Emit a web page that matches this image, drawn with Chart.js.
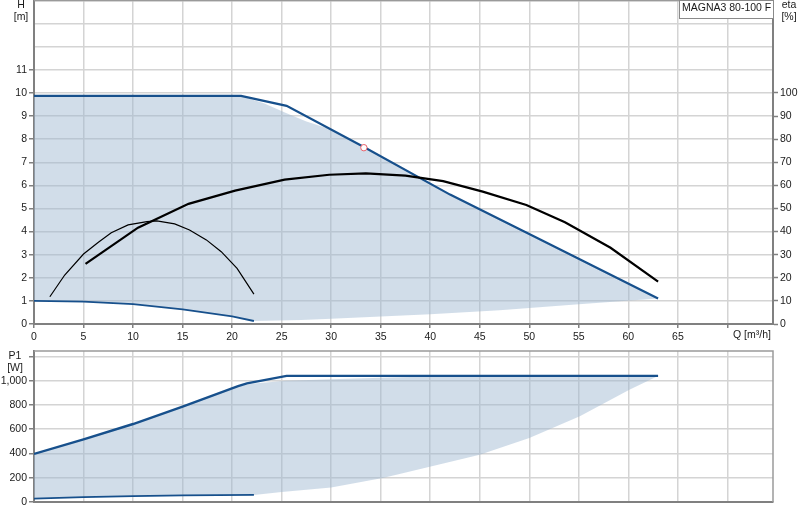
<!DOCTYPE html>
<html>
<head>
<meta charset="utf-8">
<script src="https://cdn.jsdelivr.net/npm/chart.js@4.4.1/dist/chart.umd.min.js"></script>
<style>
  html, body { margin: 0; padding: 0; background: #fff; }
  #wrap { position: relative; width: 800px; height: 520px; overflow: hidden; }
  #topBox { position: absolute; left: 0; top: 0; width: 800px; height: 340px; }
  #botBox { position: absolute; left: 0; top: 340px; width: 800px; height: 180px; }
</style>
</head>
<body>
<div id="wrap">
  <div id="topBox"><canvas id="topChart"></canvas></div>
  <div id="botBox"><canvas id="botChart"></canvas></div>
</div>
<script>
// ---------- DATA ----------
const qTicks = [0, 5, 10, 15, 20, 25, 30, 35, 40, 45, 50, 55, 60, 65, 70];
const hTicks = [0, 1, 2, 3, 4, 5, 6, 7, 8, 9, 10, 11, 12, 13, 14];
const etaTicks = [0, 10, 20, 30, 40, 50, 60, 70, 80, 90, 100, 110, 120, 130, 140];
const p1Ticks = [0, 200, 400, 600, 800, 1000, 1200];

// H curves [m]
const qHMax = [0, 20.9, 25.5, 33.3, 42, 51, 63];
const hMax = [9.87, 9.87, 9.44, 7.66, 5.6, 3.68, 1.1];
const qHMin = [0, 5, 10, 15, 20, 22.2];
const hMin = [1.0, 0.97, 0.86, 0.63, 0.33, 0.13];

// H operating area (shaded)
const qHAreaTop = [0, 20.9, 23.2, 25.5, 27.5, 30, 33.3, 42, 51, 63];
const hAreaTop = [9.87, 9.87, 9.55, 9.12, 8.76, 8.42, 7.66, 5.6, 3.68, 1.1];
const qHAreaBot = [0, 5, 10, 15, 20, 22.2, 27, 30, 40, 47, 55, 63];
const hAreaBot = [1.0, 0.97, 0.86, 0.63, 0.33, 0.13, 0.17, 0.23, 0.42, 0.6, 0.85, 1.1];

// duty point
const qDuty = [33.3];
const hDuty = [7.63];

// efficiency curves [%]
const qEtaMax = [5.2, 10.5, 15.6, 20.3, 25.3, 29.8, 33.5, 37.5, 41.3, 45.3, 49.7, 53.6, 58.2, 63];
const etaMax = [26, 41.7, 52, 57.7, 62.5, 64.6, 65.2, 64.2, 61.8, 57.3, 51.5, 44, 33, 18.3];
const qEtaMin = [1.6, 3.1, 5.0, 6.5, 7.8, 9.5, 11.4, 12.4, 14.2, 15.7, 17.4, 18.9, 20.5, 22.2];
const etaMin = [11.8, 21.2, 30.3, 35.4, 39.5, 42.9, 44.3, 44.6, 43.3, 40.7, 36.4, 31.3, 24.1, 12.9];

// P1 curves [W]
const qP1Max = [0, 5, 10, 15, 20.6, 21.5, 25.5, 63];
const p1Max = [396, 517, 643, 786, 956, 978, 1040, 1040];
const qP1Min = [0, 5, 10, 15, 22.2];
const p1Min = [28, 40, 48, 54, 58];

// P1 operating area (shaded)
const qP1AreaTop = [0, 5, 10, 15, 20.6, 22.2, 25.5, 30, 35, 40, 45, 63];
const p1AreaTop = [396, 517, 643, 786, 956, 978, 1000, 1012, 1025, 1035, 1040, 1040];
const qP1AreaBot = [0, 5, 10, 15, 22.2, 25, 30, 35.2, 36.9, 45, 50, 55.1, 60.1, 63];
const p1AreaBot = [28, 40, 48, 54, 58, 82, 120, 198, 231, 390, 528, 706, 926, 1040];

const modelName = 'MAGNA3 80-100 F';

// ---------- STYLE ----------
const FAMILY = '"Liberation Sans", Arial, sans-serif';
const FONT = { family: FAMILY, size: 10.5 };
const YFONT = { family: FAMILY, size: 10.5, lineHeight: 0.05 };
const TXT = '#1a1a1a';
const GRID = '#d4d4d4';
const AXIS = '#808080';
const BLUE = '#17508c';
const SHADE = 'rgba(158,184,210,0.48)';

const pts = (xs, ys) => xs.map((x, i) => ({ x: x, y: ys[i] }));
const setTicks = arr => s => { s.ticks = arr.map(v => ({ value: v })); };
const noPad = s => { s.paddingTop = 0; s.paddingBottom = 0; s.paddingLeft = 0; s.paddingRight = 0; };
const clear = 'rgba(0,0,0,0)';

const textPlugin = (items, frame) => ({
  id: 'texts',
  afterDraw(chart) {
    const ctx = chart.ctx;
    const a = chart.chartArea;
    ctx.save();
    ctx.strokeStyle = '#9a9a9a';
    ctx.lineWidth = 1.5;
    ctx.beginPath();
    ctx.moveTo(a.left, a.top); ctx.lineTo(a.right, a.top);
    if (frame) ctx.lineTo(a.right, a.bottom);
    ctx.stroke();
    ctx.font = FONT.size + 'px ' + FAMILY;
    ctx.textBaseline = 'middle';
    items.forEach(it => {
      if (it.box) {
        ctx.fillStyle = '#fff';
        ctx.fillRect(it.box[0], it.box[1], it.box[2], it.box[3]);
        ctx.strokeStyle = '#8a8a8a';
        ctx.lineWidth = 1;
        ctx.strokeRect(it.box[0] + 0.5, it.box[1] + 0.5, it.box[2], it.box[3]);
      }
      ctx.fillStyle = it.color || TXT;
      ctx.textAlign = it.align || 'center';
      ctx.fillText(it.t, it.x, it.y);
    });
    ctx.restore();
  }
});

// ---------- TOP CHART ----------
new Chart(document.getElementById('topChart'), {
  type: 'line',
  data: {
    datasets: [
      { data: pts(qDuty, hDuty), yAxisID: 'y', showLine: false, pointRadius: 3.2, pointHoverRadius: 3.2,
        pointBorderColor: '#e8606a', pointBackgroundColor: '#fff', pointBorderWidth: 1 },
      { data: pts(qEtaMax, etaMax), yAxisID: 'y2', borderColor: '#000', borderWidth: 2.2, pointRadius: 0, fill: false },
      { data: pts(qEtaMin, etaMin), yAxisID: 'y2', borderColor: '#000', borderWidth: 1.2, pointRadius: 0, fill: false },
      { data: pts(qHMax, hMax), yAxisID: 'y', borderColor: BLUE, borderWidth: 2.2, pointRadius: 0, fill: false },
      { data: pts(qHMin, hMin), yAxisID: 'y', borderColor: BLUE, borderWidth: 1.8, pointRadius: 0, fill: false },
      { data: pts(qHAreaTop, hAreaTop), yAxisID: 'y', borderWidth: 0, borderColor: clear, pointRadius: 0,
        backgroundColor: SHADE, fill: '+1' },
      { data: pts(qHAreaBot, hAreaBot), yAxisID: 'y', borderWidth: 0, borderColor: clear, pointRadius: 0, fill: false }
    ]
  },
  options: {
    responsive: true, maintainAspectRatio: false, animation: false,
    layout: { autoPadding: false, padding: { top: 0.5, left: 0, right: 0, bottom: 0 } },
    plugins: { legend: { display: false }, tooltip: { enabled: false } },
    elements: { line: { tension: 0 } },
    scales: {
      x: {
        type: 'linear', min: 0, max: 74.6, position: 'bottom',
        afterBuildTicks: setTicks(qTicks),
        afterFit: s => { s.height = 16; noPad(s); },
        ticks: { font: FONT, color: TXT, padding: 3, maxRotation: 0, autoSkip: false,
                 callback: v => (v <= 65 ? String(v) : '') },
        grid: { color: GRID, lineWidth: 1.5, tickLength: 4, tickColor: AXIS, tickWidth: 1.5 },
        border: { color: AXIS, width: 2 }
      },
      y: {
        type: 'linear', min: 0, max: 14, position: 'left',
        afterBuildTicks: setTicks(hTicks),
        afterFit: s => { s.width = 34; noPad(s); },
        ticks: { font: YFONT, color: TXT, padding: 2, autoSkip: false,
                 callback: v => (v <= 11 ? String(v) : '') },
        grid: { color: GRID, lineWidth: 1.5, tickLength: 5, tickWidth: 1.5,
                tickColor: c => (c.tick && c.tick.value <= 11 ? AXIS : clear) },
        border: { color: AXIS, width: 2 }
      },
      y2: {
        type: 'linear', min: 0, max: 140, position: 'right',
        afterBuildTicks: setTicks(etaTicks),
        afterFit: s => { s.width = 27; noPad(s); },
        ticks: { font: YFONT, color: TXT, padding: 2, autoSkip: false,
                 callback: v => (v <= 100 ? String(v) : '') },
        grid: { drawOnChartArea: false, tickLength: 5, tickWidth: 1.5,
                tickColor: c => (c.tick && c.tick.value <= 100 ? AXIS : clear) },
        border: { color: AXIS, width: 2 }
      }
    }
  },
  plugins: [textPlugin([
    { t: 'H', x: 21, y: 5 },
    { t: '[m]', x: 21, y: 17 },
    { t: 'eta', x: 789, y: 5 },
    { t: '[%]', x: 789, y: 17 },
    { t: 'Q [m³/h]', x: 733, y: 335, align: 'left' },
    { t: modelName, x: 682, y: 8, align: 'left', box: [679, 0, 94, 18] }
  ], false)]
});

// ---------- BOTTOM CHART ----------
new Chart(document.getElementById('botChart'), {
  type: 'line',
  data: {
    datasets: [
      { data: pts(qP1Max, p1Max), borderColor: BLUE, borderWidth: 2.4, pointRadius: 0, fill: false },
      { data: pts(qP1Min, p1Min), borderColor: BLUE, borderWidth: 1.8, pointRadius: 0, fill: false },
      { data: pts(qP1AreaTop, p1AreaTop), borderWidth: 0, borderColor: clear, pointRadius: 0,
        backgroundColor: SHADE, fill: '+1' },
      { data: pts(qP1AreaBot, p1AreaBot), borderWidth: 0, borderColor: clear, pointRadius: 0, fill: false }
    ]
  },
  options: {
    responsive: true, maintainAspectRatio: false, animation: false,
    layout: { autoPadding: false, padding: { top: 11, left: 0, right: 27, bottom: 0 } },
    plugins: { legend: { display: false }, tooltip: { enabled: false } },
    elements: { line: { tension: 0 } },
    scales: {
      x: {
        type: 'linear', min: 0, max: 74.6, position: 'bottom',
        afterBuildTicks: setTicks(qTicks),
        afterFit: s => { s.height = 18; noPad(s); },
        ticks: { display: false },
        grid: { color: GRID, lineWidth: 1.5, drawTicks: false },
        border: { color: AXIS, width: 2 }
      },
      y: {
        type: 'linear', min: 0, max: 1245, position: 'left',
        afterBuildTicks: setTicks(p1Ticks),
        afterFit: s => { s.width = 34; noPad(s); },
        ticks: { font: YFONT, color: TXT, padding: 2, autoSkip: false,
                 callback: v => (v <= 1000 ? Number(v).toLocaleString('en-US') : '') },
        grid: { color: GRID, lineWidth: 1.5, tickLength: 5, tickWidth: 1.5, tickColor: AXIS },
        border: { color: AXIS, width: 2 }
      }
    }
  },
  plugins: [textPlugin([
    { t: 'P1', x: 15, y: 16 },
    { t: '[W]', x: 15, y: 28 }
  ], true)]
});
</script>
</body>
</html>
